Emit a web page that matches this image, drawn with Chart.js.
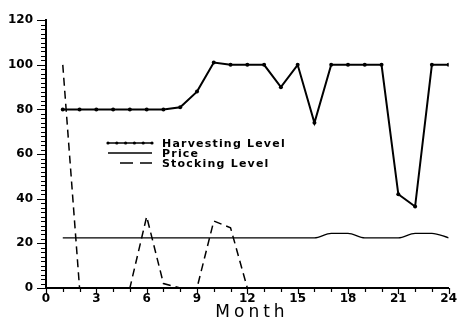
<!DOCTYPE html>
<html>
<head>
<meta charset="utf-8">
<script src="https://cdn.jsdelivr.net/npm/chart.js@4"></script>
<style>
  html, body { margin: 0; padding: 0; background: #fff; }
  #wrap { width: 461px; height: 324px; }
</style>
</head>
<body>
<div id="wrap"><canvas id="chart" width="461" height="324"></canvas></div>
<script>
// data
const months = [1, 2, 3, 4, 5, 6, 7, 8, 9, 10, 11, 12, 13, 14, 15, 16, 17, 18, 19, 20, 21, 22, 23, 24];
const harvesting = [80, 80, 80, 80, 80, 80, 80, 81, 88, 101, 100, 100, 100, 90, 100, 74, 100, 100, 100, 100, 42, 36.5, 100, 100];
const price = [22.5, 22.5, 22.5, 22.5, 22.5, 22.5, 22.5, 22.5, 22.5, 22.5, 22.5, 22.5, 22.5, 22.5, 22.5, 22.5, 24.5, 24.5, 22.5, 22.5, 22.5, 24.5, 24.5, 22.5];
const stocking = [100, 0, 0, 0, 0, 32, 2, 0, 0, 30, 27, 0, 0, 0, 0, 0, 0, 0, 0, 0, 0, 0, 0, 0];
const seriesNames = ['Harvesting Level', 'Price', 'Stocking Level'];
const xTicks = [0, 3, 6, 9, 12, 15, 18, 21, 24];
const yTicks = [0, 20, 40, 60, 80, 100, 120];

const toPts = vals => months.map((m, i) => ({ x: m, y: vals[i] }));
const tickFont = { family: 'DejaVu Sans', size: 12, weight: 'bold' };

// minor/major tick marks like the old plotter output
const tickMarks = {
  id: 'tickMarks',
  afterDraw(chart) {
    const { ctx, scales: { x, y } } = chart;
    ctx.save();
    ctx.strokeStyle = '#000';
    ctx.lineWidth = 1.2;
    ctx.beginPath();
    for (let m = 0; m <= 24; m++) {
      const px = Math.round(x.getPixelForValue(m)) + 0.5;
      const len = m % 3 === 0 ? 6 : 4;
      ctx.moveTo(px, y.bottom);
      ctx.lineTo(px, y.bottom + len);
    }
    for (let v = 0; v <= 120; v += 2) {
      const py = Math.round(y.getPixelForValue(v)) + 0.5;
      const len = v % 20 === 0 ? 9 : 5;
      ctx.moveTo(x.left, py);
      ctx.lineTo(x.left - len, py);
    }
    ctx.stroke();
    ctx.restore();
  }
};

// legend inside plot + axis title
const extras = {
  id: 'extras',
  afterDraw(chart) {
    const { ctx } = chart;
    ctx.save();
    ctx.strokeStyle = '#000';
    ctx.fillStyle = '#000';
    const rows = [143, 153, 163];
    const x0 = 108, x1 = 152, tx = 162;

    ctx.lineWidth = 1.5;
    ctx.beginPath();
    ctx.moveTo(x0, rows[0]); ctx.lineTo(x1, rows[0]);
    ctx.stroke();
    for (let i = 0; i < 6; i++) {
      ctx.beginPath();
      ctx.arc(x0 + i * (x1 - x0) / 5, rows[0], 1.6, 0, Math.PI * 2);
      ctx.fill();
    }
    ctx.lineWidth = 1.3;
    ctx.beginPath();
    ctx.moveTo(x0, rows[1]); ctx.lineTo(x1, rows[1]);
    ctx.stroke();
    ctx.lineWidth = 1.5;
    ctx.setLineDash([13, 7]);
    ctx.beginPath();
    ctx.moveTo(120, rows[2]); ctx.lineTo(x1, rows[2]);
    ctx.stroke();
    ctx.setLineDash([]);

    ctx.font = 'bold 11px "DejaVu Sans"';
    ctx.letterSpacing = '1.2px';
    ctx.textBaseline = 'middle';
    ctx.textAlign = 'left';
    seriesNames.forEach((n, i) => ctx.fillText(n, tx, rows[i] + 1));

    ctx.font = '17px "DejaVu Sans"';
    ctx.letterSpacing = '4px';
    ctx.textBaseline = 'alphabetic';
    const t = 'Month';
    const w = ctx.measureText(t).width - 4;
    ctx.fillText(t, 250 - w / 2, 317);
    ctx.restore();
  }
};

new Chart(document.getElementById('chart'), {
  type: 'line',
  data: {
    datasets: [
      {
        label: seriesNames[0],
        data: toPts(harvesting),
        borderColor: '#000',
        backgroundColor: '#000',
        borderWidth: 2,
        pointRadius: 2,
        pointBorderWidth: 0,
        tension: 0
      },
      {
        label: seriesNames[1],
        data: toPts(price),
        borderColor: '#000',
        borderWidth: 1.3,
        pointRadius: 0,
        cubicInterpolationMode: 'monotone'
      },
      {
        label: seriesNames[2],
        data: toPts(stocking),
        borderColor: '#000',
        borderWidth: 1.5,
        borderDash: [8, 5],
        pointRadius: 0,
        tension: 0
      }
    ]
  },
  options: {
    responsive: false,
    animation: false,
    layout: { padding: { top: 11, right: 9, left: 0, bottom: 0 } },
    plugins: { legend: { display: false }, tooltip: { enabled: false } },
    scales: {
      x: {
        type: 'linear',
        min: 0,
        max: 24,
        afterFit: s => { s.height = 36; },
        afterBuildTicks: s => { s.ticks = xTicks.map(v => ({ value: v })); },
        grid: { display: false, drawTicks: false },
        border: { color: '#000', width: 2 },
        ticks: { color: '#000', font: tickFont, padding: 4, maxRotation: 0 }
      },
      y: {
        min: 0,
        max: 120,
        afterFit: s => { s.width = 46; },
        afterBuildTicks: s => { s.ticks = yTicks.map(v => ({ value: v })); },
        grid: { display: false, drawTicks: false },
        border: { color: '#000', width: 2 },
        ticks: { color: '#000', font: tickFont, padding: 13 }
      }
    }
  },
  plugins: [tickMarks, extras]
});
</script>
</body>
</html>
